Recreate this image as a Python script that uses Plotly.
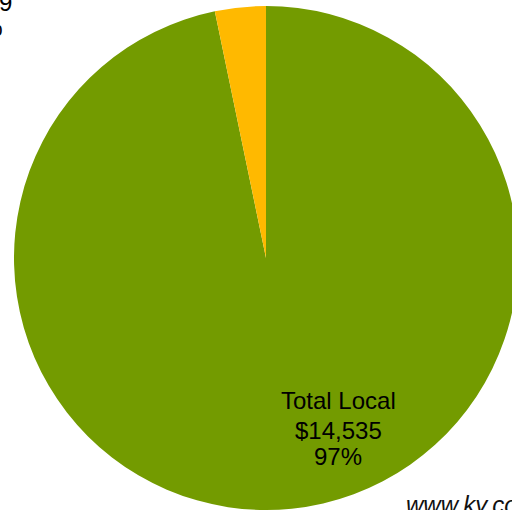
import plotly.graph_objects as go

labels = ["Total Local", "Other"]
values = [14535, 489]
colors = ["#739B00", "#FFB900"]

W, H = 532, 510
ML, MR, MT, MB = 14, 14, 6, 0
DW = W - ML - MR
DH = H - MT - MB

def px(x):
    return (x - ML) / DW

def py(y):
    return (H - MB - y) / DH

total = sum(values)
pct = [round(v / total * 100) for v in values]

fig = go.Figure(go.Pie(
    labels=labels,
    values=values,
    marker=dict(colors=colors, line=dict(width=0)),
    sort=False,
    direction="clockwise",
    rotation=0,
    textinfo="none",
    hoverinfo="label+value+percent",
    showlegend=False,
))

font = dict(family="Liberation Sans, Arial, sans-serif", size=24, color="#000000")

def add_lines(lines, cx, ys):
    for t, y in zip(lines, ys):
        fig.add_annotation(
            x=px(cx), y=py(y), xref="paper", yref="paper", text=t,
            showarrow=False, xanchor="center", yanchor="middle", font=font,
        )

add_lines([labels[0], f"${values[0]:,}", f"{pct[0]}%"], 338, [400, 430, 456])
add_lines([labels[1], f"${values[1]:,}", f"{pct[1]}%"], -15, [-26, 2, 28])

fig.add_annotation(
    x=px(404), y=py(520), xref="paper", yref="paper",
    text="<i>www.ky.com</i>",
    showarrow=False, xanchor="left", yanchor="bottom", align="left",
    font=dict(family="Liberation Sans, Arial, sans-serif", size=24, color="#111111"),
)

fig.update_layout(
    width=W, height=H,
    margin=dict(l=ML, r=MR, t=MT, b=MB, pad=0),
    paper_bgcolor="white", plot_bgcolor="white",
)

fig.write_html(
    "out.html",
    config={"displayModeBar": False},
    post_script="document.documentElement.style.overflow='hidden';document.body.style.overflow='hidden';document.body.style.margin='0';",
)
